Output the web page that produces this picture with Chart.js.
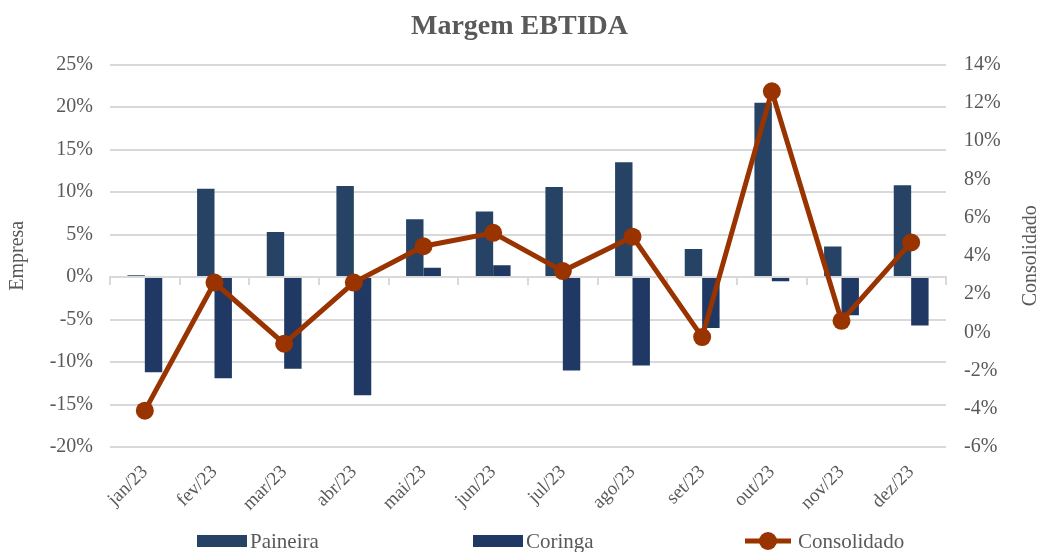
<!DOCTYPE html>
<html>
<head>
<meta charset="utf-8">
<script src="https://cdn.jsdelivr.net/npm/chart.js@4.4.1/dist/chart.umd.min.js"></script>
<style>
  html, body { margin: 0; padding: 0; background: #fff; }
</style>
</head>
<body>
<canvas id="chart" width="1039" height="552"></canvas>
<script>
// data
var months = ["jan/23", "fev/23", "mar/23", "abr/23", "mai/23", "jun/23",
  "jul/23", "ago/23", "set/23", "out/23", "nov/23", "dez/23"];
var paineira = [0.2, 10.4, 5.3, 10.7, 6.8, 7.7, 10.6, 13.5, 3.3, 20.5, 3.6, 10.8];
var coringa = [-11.2, -11.9, -10.8, -13.9, 1.1, 1.4, -11.0, -10.4, -6.0, -0.5, -4.5, -5.7];
var consolidado = [-4.1, 2.6, -0.6, 2.6, 4.5, 5.2, 3.2, 5.0, -0.25, 12.6, 0.6, 4.7];

var leftTicks = { min: -20, max: 25, step: 5 };
var rightTicks = { min: -6, max: 14, step: 2 };

var GREY = "#595959";
var GRID = "#d9d9d9";
var SERIF = '"Liberation Serif", "DejaVu Serif", serif';

Chart.defaults.font.family = SERIF;
Chart.defaults.color = GREY;

function pct(v) {
  return v + "%";
}

// legend under the chart + right axis title reading bottom-to-top
var extras = {
  id: "extras",
  afterDraw: function (chart) {
    var ctx = chart.ctx;
    var y = chart.height - 11;
    var starts = [197, 473, 745];
    ctx.save();
    ctx.font = "21px " + SERIF;
    ctx.textBaseline = "middle";
    ctx.textAlign = "left";
    chart.data.datasets.forEach(function (ds, i) {
      var x = starts[i];
      if (ds.type === "line") {
        ctx.strokeStyle = ds.borderColor;
        ctx.lineWidth = ds.borderWidth;
        ctx.beginPath();
        ctx.moveTo(x, y);
        ctx.lineTo(x + 46, y);
        ctx.stroke();
        ctx.fillStyle = ds.borderColor;
        ctx.beginPath();
        ctx.arc(x + 23, y, ds.pointRadius, 0, Math.PI * 2);
        ctx.fill();
      } else {
        ctx.fillStyle = ds.backgroundColor;
        ctx.fillRect(x, y - 6, 50, 12);
      }
      ctx.fillStyle = GREY;
      ctx.fillText(ds.label, x + 53, y + 1);
    });

    var area = chart.chartArea;
    ctx.translate(chart.scales.y1.right - 8, (area.top + area.bottom) / 2);
    ctx.rotate(-Math.PI / 2);
    ctx.textAlign = "center";
    ctx.font = "20px " + SERIF;
    ctx.fillText("Consolidado", 0, 0);
    ctx.restore();
  },
};

var ctx = document.getElementById("chart").getContext("2d");

new Chart(ctx, {
  type: "bar",
  data: {
    labels: months,
    datasets: [
      {
        type: "bar",
        label: "Paineira",
        data: paineira,
        backgroundColor: "#264264",
        categoryPercentage: 0.5,
        barPercentage: 1.0,
        yAxisID: "y",
        order: 2,
      },
      {
        type: "bar",
        label: "Coringa",
        data: coringa,
        backgroundColor: "#1f3864",
        categoryPercentage: 0.5,
        barPercentage: 1.0,
        yAxisID: "y",
        order: 2,
      },
      {
        type: "line",
        label: "Consolidado",
        data: consolidado,
        borderColor: "#993300",
        backgroundColor: "#993300",
        borderWidth: 5,
        pointRadius: 9,
        pointBackgroundColor: "#993300",
        pointBorderWidth: 0,
        yAxisID: "y1",
        order: 0,
      },
    ],
  },
  options: {
    responsive: false,
    animation: false,
    layout: { padding: { top: 0, bottom: 40, left: 0, right: 0 } },
    scales: {
      x: {
        grid: { display: false },
        border: { display: false },
        ticks: { minRotation: 45, maxRotation: 45, padding: 6, font: { size: 19 } },
        afterFit: function (s) { s.height = 65; },
      },
      x2: {
        type: "category",
        position: { y: 0 },
        offset: true,
        grid: { offset: true, drawOnChartArea: false, tickLength: 7, color: GRID, lineWidth: 2 },
        border: { display: true, color: GRID, width: 2 },
        ticks: { display: false },
      },
      y: {
        position: "left",
        min: leftTicks.min,
        max: leftTicks.max,
        ticks: { stepSize: leftTicks.step, callback: pct, padding: 17, font: { size: 20 } },
        grid: { color: GRID, lineWidth: 2, drawTicks: false },
        border: { display: false },
        title: { display: true, text: "Empresa", font: { size: 20 }, padding: { top: 6, bottom: 0 } },
        afterFit: function (s) { s.width = 110; },
      },
      y1: {
        position: "right",
        min: rightTicks.min,
        max: rightTicks.max,
        ticks: { stepSize: rightTicks.step, callback: pct, padding: 18, font: { size: 20 } },
        grid: { display: false, drawTicks: false },
        border: { display: false },
        afterFit: function (s) { s.width = 93; },
      },
    },
    plugins: {
      legend: { display: false },
      tooltip: { enabled: false },
      title: {
        display: true,
        text: "Margem EBTIDA",
        color: GREY,
        font: { size: 28, weight: "bold" },
        padding: { top: 10, bottom: 21 },
      },
    },
  },
  plugins: [extras],
});
</script>
</body>
</html>
